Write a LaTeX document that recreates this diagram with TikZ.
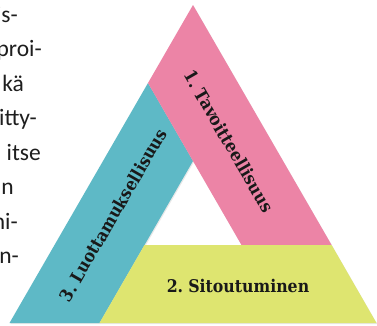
\documentclass[tikz,border=0pt]{standalone}
\usepackage{fontspec}
\setmainfont{Carlito}
\newfontfamily\labelfont[FakeStretch=0.9, WordSpace=0.6]{DejaVu Serif}
\usetikzlibrary{shadows}
\definecolor{pinkband}{RGB}{236,132,166}
\definecolor{cyanband}{RGB}{94,185,198}
\definecolor{yellowband}{RGB}{222,229,112}
\definecolor{bodygray}{RGB}{30,30,30}
\begin{document}
\begin{tikzpicture}[x=1pt,y=-1pt,
  band/.style={draw=none, drop shadow={opacity=0.18, shadow xshift=0.8pt, shadow yshift=-1.2pt}},
  bodytext/.style={anchor=base east, inner sep=0pt, font=\fontsize{23.5}{28}\selectfont, text=bodygray},
  bandlabel/.style={inner sep=0pt, font=\labelfont\bfseries\fontsize{17.5}{20}\selectfont, text=black!90}]
\useasboundingbox (0,0) rectangle (377,325);
\fill[white] (0,0) rectangle (377,325);
% geometry
\coordinate (A) at (193,5);
\coordinate (BL) at (9.5,323);
\coordinate (BR) at (376.5,323);
\coordinate (IA) at (193,161);
\coordinate (IBL) at (144.5,245);
\coordinate (IBR) at (241.5,245);
\coordinate (Q) at (148,83);
\coordinate (P1) at (331.6,245);
\coordinate (C1) at (99.5,323);
% bands
\fill[cyanband, band] (BL) -- (C1) -- (IA) -- (Q) -- cycle;
\fill[pinkband, band] (A) -- (P1) -- (IBR) -- (Q) -- cycle;
\fill[yellowband, band] (IBL) -- (P1) -- (BR) -- (C1) -- cycle;
% labels
\node[bandlabel, rotate=-60] (l1) at (229,141) {1. Tavoitteellisuus};
\node[bandlabel] (l2) at (238,286) {2. Sitoutuminen};
\node[bandlabel, rotate=60] (l3) at (113,215) {3. Luottamuksellisuus};
% body text (cropped paragraph)
\node[bodytext] (t1) at (18,22) {is-};
\node[bodytext] (t2) at (42,56.5) {proi-};
\node[bodytext] (t3) at (24,91) {kä};
\node[bodytext] (t4) at (37,125.5) {itty-};
\node[bodytext] (t5) at (41,160) {itse};
\node[bodytext] (t6) at (14,194.5) {n};
\node[bodytext] (t7) at (18,229) {ni-};
\node[bodytext] (t8) at (19,263.5) {n-};
\end{tikzpicture}
\end{document}
